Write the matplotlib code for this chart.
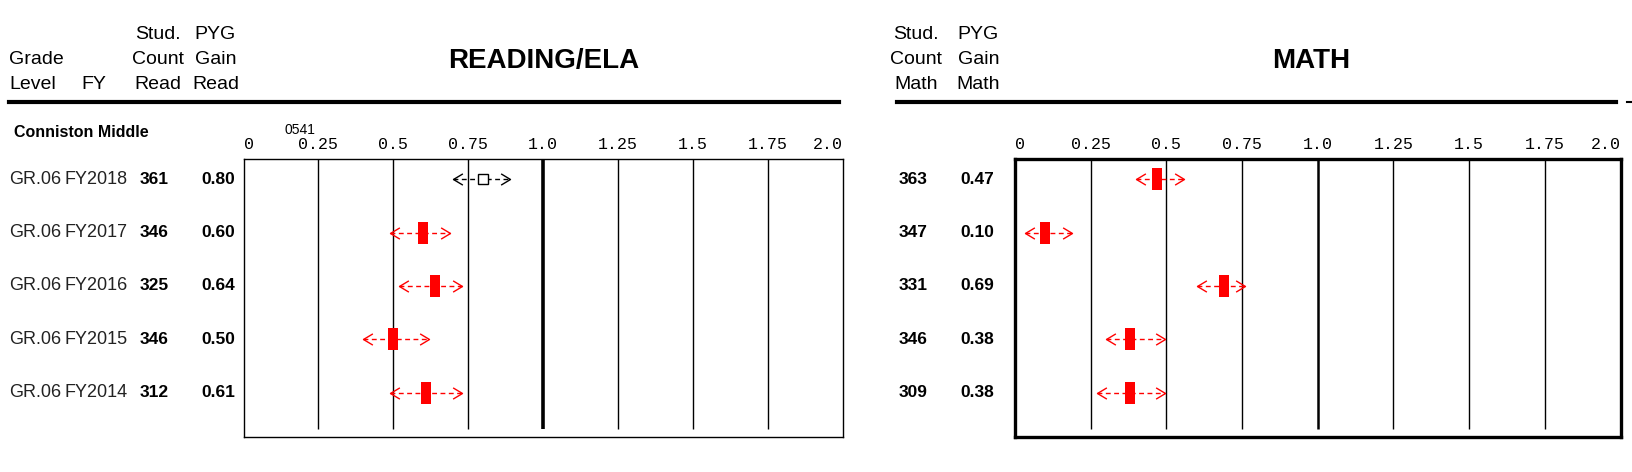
import numpy as np
import matplotlib
matplotlib.use('Agg')
import matplotlib.pyplot as plt
from matplotlib.lines import Line2D
from matplotlib.path import Path
from matplotlib.transforms import blended_transform_factory

plt.rcParams['font.family'] = ['Liberation Sans', 'DejaVu Sans']

# data
grades = ['GR.06', 'GR.06', 'GR.06', 'GR.06', 'GR.06']
years = ['FY2018', 'FY2017', 'FY2016', 'FY2015', 'FY2014']
read_count = [361, 346, 325, 346, 312]
read_gain = [0.80, 0.60, 0.64, 0.50, 0.61]
read_lo = [0.70, 0.49, 0.52, 0.40, 0.49]
read_hi = [0.89, 0.69, 0.73, 0.62, 0.73]
read_filled = [False, True, True, True, True]
math_count = [363, 347, 331, 346, 309]
math_gain = [0.47, 0.10, 0.69, 0.38, 0.38]
math_lo = [0.40, 0.035, 0.60, 0.30, 0.27]
math_hi = [0.56, 0.19, 0.76, 0.495, 0.495]
math_filled = [True, True, True, True, True]
grid_vals = [0.25, 0.5, 0.75, 1.0, 1.25, 1.5, 1.75]
tick_vals = [0, 0.25, 0.5, 0.75, 1.0, 1.25, 1.5, 1.75, 2.0]
tick_labels = ['0', '0.25', '0.5', '0.75', '1.0', '1.25', '1.5', '1.75', '2.0']
school = 'Conniston Middle'
school_code = '0541'

W, H = 1568, 453  # layout measured on this grid


def fx(x):
    return x / W


def fy(y):
    return 1 - y / H


fig = plt.figure(figsize=(16.32, 4.72), dpi=100)
fig.patch.set_facecolor('white')

rect_marker = Path([(-0.25, -0.5), (0.25, -0.5), (0.25, 0.5), (-0.25, 0.5), (-0.25, -0.5)])
left_chev = Path([(1, 0.6), (0, 0), (1, -0.6)], [Path.MOVETO, Path.LINETO, Path.LINETO])
right_chev = Path([(-1, 0.6), (0, 0), (-1, -0.6)], [Path.MOVETO, Path.LINETO, Path.LINETO])

rows = np.arange(len(years))


def panel(x0, x1, frame_lw, one_lw, gain, lo, hi, filled):
    ax = fig.add_axes([fx(x0), fy(419), fx(x1) - fx(x0), fy(153) - fy(419)])
    ax.set_xlim(0, 2)
    ax.set_ylim(4.82, -0.37)
    for v in grid_vals:
        ax.vlines(v, -0.37, 4.68, color='black', lw=one_lw if v == 1.0 else 1.0)
    for i in rows:
        c = 'red' if filled[i] else 'black'
        ax.plot([lo[i], hi[i]], [i, i], color=c, lw=1, dashes=(3.5, 2.5))
        ax.plot(lo[i], i, marker=left_chev, ms=13.5, mec=c, mfc='none', mew=1, ls='none')
        ax.plot(hi[i], i, marker=right_chev, ms=13.5, mec=c, mfc='none', mew=1, ls='none')
        if filled[i]:
            ax.plot(gain[i], i, marker=rect_marker, ms=15.5, mfc='red', mec='red', mew=0, ls='none')
        else:
            ax.plot(gain[i], i, marker='s', ms=7.5, mfc='white', mec='black', mew=1, ls='none')
    ax.set_xticks(tick_vals)
    ax.set_xticklabels(tick_labels, fontfamily='Liberation Mono', fontsize=12)
    ax.xaxis.tick_top()
    ax.tick_params(axis='x', length=0, pad=5)
    labs = ax.get_xticklabels()
    labs[0].set_ha('left')
    labs[-1].set_ha('right')
    ax.set_yticks([])
    for s in ax.spines.values():
        s.set_linewidth(frame_lw)
    return ax


axL = panel(234, 810, 1.0, 2.6, read_gain, read_lo, read_hi, read_filled)
axR = panel(975, 1557, 2.4, 1.8, math_gain, math_lo, math_hi, math_filled)

# header rules
fig.add_artist(Line2D([fx(9), fx(806)], [fy(98), fy(98)], lw=3, color='black'))
fig.add_artist(Line2D([fx(862), fx(1553)], [fy(98), fy(98)], lw=3, color='black'))
fig.add_artist(Line2D([fx(1563), fx(1568)], [fy(98), fy(98)], lw=1.5, color='black'))

hs = 14
for txt, y in [('Grade', 57), ('Level', 81)]:
    fig.text(fx(9), fy(y), txt, fontsize=hs, ha='left', va='center')
fig.text(fx(78), fy(81), 'FY', fontsize=hs, ha='left', va='center')
for txt, y in [('Stud.', 33), ('Count', 57), ('Read', 81)]:
    fig.text(fx(152), fy(y), txt, fontsize=hs, ha='center', va='center')
for txt, y in [('PYG', 33), ('Gain', 57), ('Read', 81)]:
    fig.text(fx(207), fy(y), txt, fontsize=hs, ha='center', va='center')
for txt, y in [('Stud.', 33), ('Count', 57), ('Math', 81)]:
    fig.text(fx(880), fy(y), txt, fontsize=hs, ha='center', va='center')
for txt, y in [('PYG', 33), ('Gain', 57), ('Math', 81)]:
    fig.text(fx(940), fy(y), txt, fontsize=hs, ha='center', va='center')

fig.text(fx(522), fy(59), 'READING/ELA', fontsize=20, fontweight='bold', ha='center', va='center')
fig.text(fx(1260), fy(59), 'MATH', fontsize=20, fontweight='bold', ha='center', va='center')

fig.text(fx(13), fy(127), school, fontsize=11.5, fontweight='bold', ha='left', va='center')
fig.text(fx(273), fy(125), school_code, fontsize=10, ha='left', va='center')

tL = blended_transform_factory(fig.transFigure, axL.transData)
tR = blended_transform_factory(fig.transFigure, axR.transData)
for i in rows:
    fig.text(fx(9), i, grades[i], transform=tL, fontsize=13, ha='left', va='center', color='#222222')
    fig.text(fx(62), i, years[i], transform=tL, fontsize=13, ha='left', va='center', color='#222222')
    fig.text(fx(148), i, str(read_count[i]), transform=tL, fontsize=12.5, fontweight='bold', ha='center', va='center')
    fig.text(fx(210), i, '%.2f' % read_gain[i], transform=tL, fontsize=12.5, fontweight='bold', ha='center', va='center')
    fig.text(fx(877), i, str(math_count[i]), transform=tR, fontsize=12.5, fontweight='bold', ha='center', va='center')
    fig.text(fx(939), i, '%.2f' % math_gain[i], transform=tR, fontsize=12.5, fontweight='bold', ha='center', va='center')

fig.savefig('out.png', dpi=100)
